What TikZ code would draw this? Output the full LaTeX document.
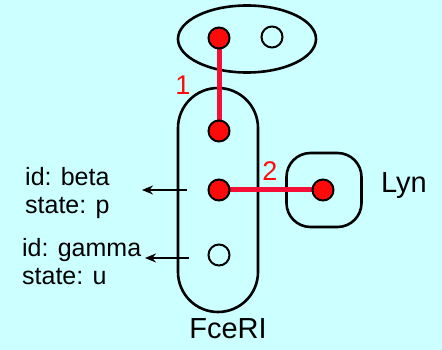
\documentclass[tikz,border=0pt]{standalone}
\usepackage{fontspec}
\setmainfont{Liberation Sans}
\usetikzlibrary{shapes.geometric,arrows.meta}
\definecolor{bgc}{RGB}{204,255,255}
\definecolor{dotred}{RGB}{255,10,10}
\definecolor{linkred}{RGB}{245,15,55}
\tikzset{
  outl/.style={draw=black,line width=2.6pt},
  site/.style={circle,draw=black,line width=2pt,minimum size=21pt,inner sep=0pt},
  bound/.style={site,fill=dotred},
  free/.style={site,fill=none},
  link/.style={draw=linkred,line width=5pt},
  lbl/.style={font=\fontsize{25}{30}\selectfont,align=left,anchor=west,inner sep=0pt},
  numlbl/.style={text=dotred,font=\fontsize{27}{30}\selectfont,inner sep=0pt},
  ptr/.style={draw=black,line width=2pt,-{Stealth[length=11pt,width=9pt]}}
}
\begin{document}
\begin{tikzpicture}[x=1pt,y=-1pt]
\fill[bgc] (0,0) rectangle (442,350);
\useasboundingbox (0,0) rectangle (442,350);
% top agent
\node[ellipse,outl,minimum width=138pt,minimum height=67pt,inner sep=0pt] (top) at (247,39) {};
% FceRI
\node[rectangle,rounded corners=40pt,outl,minimum width=80pt,minimum height=224pt,inner sep=0pt] (fce) at (218,200) {};
% Lyn
\node[rectangle,rounded corners=24pt,outl,minimum width=75pt,minimum height=74pt,inner sep=0pt] (lyn) at (324,190) {};
% links
\coordinate (a) at (219,38);
\coordinate (b) at (219,131);
\coordinate (c) at (219,190);
\coordinate (d) at (323,190);
\draw[link] (a) -- (b);
\draw[link] (c) -- (d);
% sites
\node[bound] (s1) at (a) {};
\node[free] (s2) at (272,37) {};
\node[bound] (s3) at (b) {};
\node[bound] (s4) at (c) {};
\node[free] (s5) at (219,255) {};
\node[bound] (s6) at (d) {};
% labels
\node[numlbl] (n1) at (183,85) {1};
\node[numlbl] (n2) at (270,171) {2};
\node[font=\fontsize{29}{30}\selectfont,inner sep=0pt] (lynl) at (404,186) {Lyn};
\node[font=\fontsize{29}{30}\selectfont,inner sep=0pt] (fcel) at (228,329) {FceRI};
% annotations
\node[lbl] (beta) at (25,193) {id: beta\\[-2pt]state: p};
\node[lbl] (gamma) at (22,262) {id: gamma\\[-2pt]state: u};
\coordinate (ba) at (187,190);
\coordinate (ga) at (189,258);
\coordinate (bt) at (142,190);
\coordinate (gt) at (145,258);
\draw[ptr] (ba) -- (bt);
\draw[ptr] (ga) -- (gt);
\end{tikzpicture}
\end{document}
